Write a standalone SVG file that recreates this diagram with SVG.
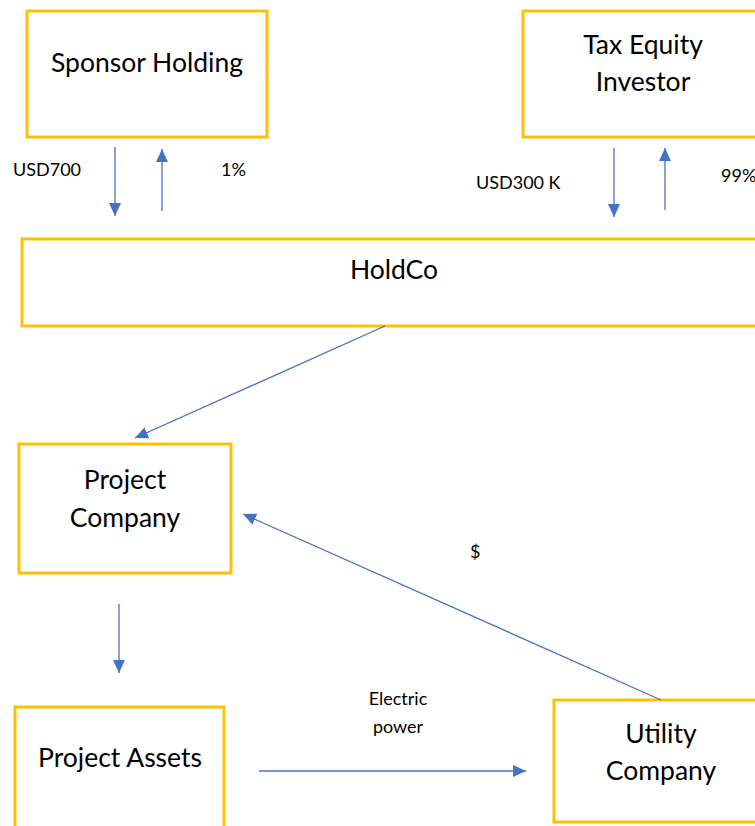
<svg xmlns="http://www.w3.org/2000/svg" width="755" height="826" viewBox="0 0 755 826">
  <defs>
    <style>
      .box { fill: #ffffff; stroke: #FFC000; stroke-width: 3; }
      .name { font-family: Lato, "Open Sans", "Liberation Sans", sans-serif; font-size: 26.5px; fill: #000000; text-anchor: middle; }
      .lbl { font-family: Lato, "Open Sans", "Liberation Sans", sans-serif; font-size: 18px; fill: #000000; }
      .link { stroke: #4472C4; stroke-width: 1.3; fill: none; marker-end: url(#head); }
    </style>
    <marker id="head" viewBox="0 0 13 12" refX="13" refY="6" markerUnits="userSpaceOnUse" markerWidth="13" markerHeight="12" orient="auto">
      <path d="M0,0 L13,6 L0,12 Z" fill="#4472C4"/>
    </marker>
  </defs>
  <rect width="755" height="826" fill="#ffffff"/>

  <g id="sponsor-holding">
    <rect class="box" x="27" y="11" width="240" height="126"/>
    <text class="name" x="147" y="72">Sponsor Holding</text>
  </g>

  <g id="tax-equity-investor">
    <rect class="box" x="523" y="11" width="240" height="126"/>
    <text class="name" x="643" y="54">Tax Equity</text>
    <text class="name" x="643" y="91">Investor</text>
  </g>

  <g id="holdco">
    <rect class="box" x="22" y="239" width="740" height="87"/>
    <text class="name" x="394" y="279">HoldCo</text>
  </g>

  <g id="project-company">
    <rect class="box" x="19" y="444" width="212" height="129"/>
    <text class="name" x="125" y="489">Project</text>
    <text class="name" x="125" y="527">Company</text>
  </g>

  <g id="project-assets">
    <rect class="box" x="15" y="707" width="209" height="130"/>
    <text class="name" x="120" y="767">Project Assets</text>
  </g>

  <g id="utility-company">
    <rect class="box" x="554" y="700" width="210" height="122"/>
    <text class="name" x="661" y="743">Utility</text>
    <text class="name" x="661" y="780">Company</text>
  </g>

  <g id="connectors">
    <line class="link" x1="115" y1="147" x2="115" y2="216"/>
    <line class="link" x1="162" y1="211" x2="162" y2="149"/>
    <line class="link" x1="614" y1="148" x2="614" y2="217"/>
    <line class="link" x1="665" y1="210" x2="665" y2="148"/>
    <line class="link" x1="385" y1="326" x2="135" y2="438"/>
    <line class="link" x1="661" y1="700" x2="243" y2="514"/>
    <line class="link" x1="119" y1="604" x2="119" y2="673"/>
    <line class="link" x1="259" y1="771" x2="526" y2="771"/>
  </g>

  <g id="labels">
    <text class="lbl" x="13" y="176">USD700</text>
    <text class="lbl" x="221" y="176">1%</text>
    <text class="lbl" x="476" y="189">USD300 K</text>
    <text class="lbl" x="721" y="182">99%</text>
    <text class="lbl" x="470" y="558">$</text>
    <text class="lbl" x="398" y="705" text-anchor="middle">Electric</text>
    <text class="lbl" x="398" y="733" text-anchor="middle">power</text>
  </g>
</svg>
